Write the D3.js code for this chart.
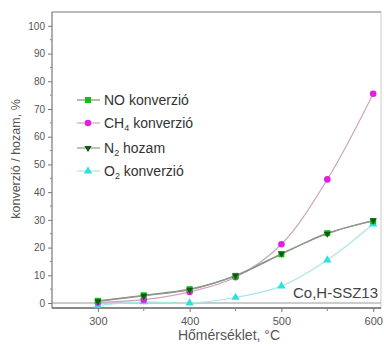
<!DOCTYPE html>
<html><head><meta charset="utf-8">
<script src="https://cdn.jsdelivr.net/npm/d3@7"></script>
<style>body{margin:0;background:#fff}svg{display:block;font-family:"Liberation Sans",Arial,sans-serif}</style>
</head><body><svg id="c" width="384" height="346"></svg>
<script>
const temps = [300, 350, 400, 450, 500, 550, 600];
const noConv = [0.8, 2.8, 5.0, 9.8, 17.6, 25.2, 29.5];
const ch4Conv = [0.2, 1.2, 4.0, 9.3, 21.2, 44.6, 75.5];
const n2Yield = [0.6, 2.6, 4.8, 9.9, 17.8, 25.0, 29.8];
const o2Conv = [-0.8, 0.4, 0.0, 2.0, 6.1, 15.5, 28.5];
const yTicks = [0,10,20,30,40,50,60,70,80,90,100];
const xTicks = [300,400,500,600];
const legendLabels = [["NO"," konverzió",""],["CH","konverzió","4"],["N","hozam","2"],["O","konverzió","2"]];

const svg = d3.select("#c");
const L=52, R=381, T=12, B=308;
const x = d3.scaleLinear().domain([250, 608.5]).range([L, R]);
const y = d3.scaleLinear().domain([-1.8, 105]).range([B, T]);
const grey="#555";

// frame
svg.append("rect").attr("x",L).attr("y",T).attr("width",R-L).attr("height",B-T).attr("fill","none").attr("stroke","#ccc").attr("stroke-width",1);
svg.append("line").attr("x1",L).attr("x2",R).attr("y1",T).attr("y2",T).attr("stroke","#bbb").attr("stroke-width",2);
// zero line
svg.append("line").attr("x1",L).attr("x2",R).attr("y1",y(0)).attr("y2",y(0)).attr("stroke","#999").attr("stroke-width",1);

// y axis
const ya = svg.append("g").attr("transform",`translate(${L},0)`)
  .call(d3.axisLeft(y).tickValues(yTicks).tickSize(4).tickPadding(3));
ya.select(".domain").attr("stroke","#777").attr("d",`M0,${B}V${T}`);
ya.selectAll(".tick line").attr("stroke","#777");
ya.selectAll("text").attr("fill",grey).attr("font-size",10).attr("font-family","Liberation Sans, Arial");
const yMinor = d3.range(5,105,10);
svg.append("g").selectAll("line").data(yMinor).join("line")
  .attr("x1",L-2).attr("x2",L).attr("y1",d=>y(d)).attr("y2",d=>y(d)).attr("stroke","#888");

// x axis
const xa = svg.append("g").attr("transform",`translate(0,${B})`)
  .call(d3.axisBottom(x).tickValues(xTicks).tickSize(4).tickPadding(5));
xa.select(".domain").attr("stroke","#888").attr("stroke-width",2).attr("d",`M${L},0H${R}`);
xa.selectAll(".tick line").attr("stroke","#777");
xa.selectAll("text").attr("fill",grey).attr("font-size",11).attr("font-family","Liberation Sans, Arial");
svg.append("g").selectAll("line").data([350,450,550]).join("line")
  .attr("x1",d=>x(d)).attr("x2",d=>x(d)).attr("y1",B).attr("y2",B+3).attr("stroke","#888");

// labels
svg.append("text").attr("x",229).attr("y",340).attr("text-anchor","middle").attr("font-size",14).attr("fill",grey).text("Hőmérséklet, °C");
svg.append("text").attr("transform","translate(20,159) rotate(-90)").attr("text-anchor","middle").attr("font-size",12.5).attr("fill",grey).text("konverzió / hozam, %");
svg.append("text").attr("x",378).attr("y",298).attr("text-anchor","end").attr("font-size",15).attr("fill","#444").text("Co,H-SSZ13");

const series = [
  {v:noConv, line:"#8a8a7a", fill:"#10c010", sym:d3.symbolSquare, size:36, rot:0},
  {v:ch4Conv, line:"#c9a6c0", fill:"#e020e0", sym:d3.symbolCircle, size:34, rot:0},
  {v:n2Yield, line:"#8a9a8a", fill:"#0c5a14", sym:d3.symbolTriangle, size:22, rot:180},
  {v:o2Conv, line:"#a8e8e6", fill:"#30e0e0", sym:d3.symbolTriangle, size:30, rot:0}
];
const lineGen = d3.line().x((d,i)=>x(temps[i])).y(d=>y(d)).curve(d3.curveCatmullRom.alpha(0.5));
[series[3],series[1],series[0],series[2]].forEach(s=>{
  svg.append("path").attr("d",lineGen(s.v)).attr("fill","none").attr("stroke",s.line).attr("stroke-width",1.2);
});
[series[3],series[1],series[0],series[2]].forEach(s=>{
  svg.append("g").selectAll("path").data(s.v).join("path")
    .attr("d",d3.symbol().type(s.sym).size(s.size))
    .attr("transform",(d,i)=>`translate(${x(temps[i])},${y(d)}) rotate(${s.rot})`)
    .attr("fill",s.fill);
});

// legend
const ly=[100,123,148,171];
series.forEach((s,i)=>{
  const g=svg.append("g");
  g.append("line").attr("x1",77).attr("x2",100).attr("y1",ly[i]).attr("y2",ly[i]).attr("stroke",s.line).attr("stroke-width",1.2);
  g.append("path").attr("d",d3.symbol().type(s.sym).size(s.size)).attr("transform",`translate(88,${ly[i]}) rotate(${s.rot})`).attr("fill",s.fill);
  const t=g.append("text").attr("x",104).attr("y",ly[i]+5).attr("font-size",14).attr("fill","#333");
  const lb=legendLabels[i];
  t.append("tspan").text(lb[0]);
  if(lb[2]){ t.append("tspan").attr("font-size",9).attr("dy",3).text(lb[2]); t.append("tspan").attr("dy",-3).text(" "+lb[1]); }
  else t.append("tspan").text(lb[1]);
});
</script></body></html>
